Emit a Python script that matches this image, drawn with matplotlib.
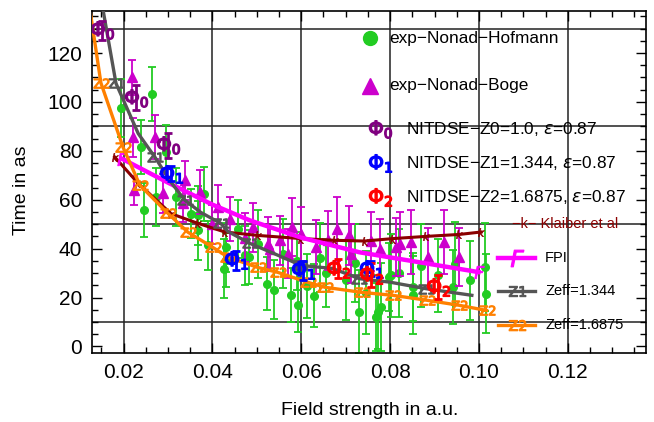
import matplotlib
matplotlib.use("Agg")
import matplotlib.pyplot as plt
from matplotlib.ticker import MultipleLocator

plt.rcParams["font.family"] = ["Liberation Sans", "DejaVu Sans"]

# exp-Nonad-Hofmann (green circles)
hof_x = [0.0195, 0.0240, 0.0265, 0.0296, 0.0318, 0.0382, 0.0246, 0.0274, 0.0352, 0.0367,
         0.0367, 0.0390, 0.0431, 0.0427, 0.0430, 0.0458, 0.0473, 0.0482, 0.0502, 0.0524,
         0.0539, 0.0560, 0.0578, 0.0590, 0.0593, 0.0614, 0.0629, 0.0642, 0.0655, 0.0700,
         0.0720, 0.0731, 0.0745, 0.0769, 0.0773, 0.0780, 0.0797, 0.0803, 0.0820, 0.0851,
         0.0851, 0.0870, 0.0908, 0.0941, 0.0945, 0.0980, 0.1013, 0.1015]
hof_y = [97.5, 81.5, 103.4, 79.5, 61.1, 62.5, 55.7, 61.1, 54.3, 53.6,
         47.5, 41.3, 35.2, 31.8, 40.6, 48.0, 37.2, 36.6, 42.0, 25.7,
         23.2, 38.0, 20.9, 35.0, 16.8, 24.6, 20.8, 36.3, 30.0, 27.0,
         34.0, 14.1, 22.0, 12.0, 14.1, 16.1, 28.4, 29.1, 30.0, 20.9,
         24.3, 33.0, 29.1, 24.3, 33.9, 27.0, 32.5, 21.6]
hof_err = [12, 11, 11, 11, 12, 11, 11, 12, 10, 12,
           12, 10, 11, 12, 10, 12, 12, 11, 14, 11,
           12, 14, 11, 12, 11, 13, 13, 14, 14, 16,
           16, 17, 17, 14, 15, 18, 14, 17, 18, 16,
           14, 17, 15, 15, 17, 16, 18, 16]

# exp-Nonad-Boge (magenta triangles)
boge_x = [0.0218, 0.0222, 0.0223, 0.0271, 0.0289, 0.0333, 0.0338, 0.0372, 0.0400, 0.0413,
          0.0439, 0.0473, 0.0492, 0.0525, 0.0530, 0.0552, 0.0571, 0.0579, 0.0600, 0.0634,
          0.0660, 0.0680, 0.0707, 0.0713, 0.0757, 0.0777, 0.0814, 0.0822, 0.0848, 0.0885,
          0.0922, 0.0956]
boge_y = [110.0, 85.6, 63.8, 85.6, 62.7, 58.7, 68.0, 63.1, 50.0, 57.0,
          52.3, 44.5, 48.8, 42.0, 40.0, 43.4, 38.0, 48.8, 46.0, 40.6,
          43.4, 48.0, 45.4, 38.0, 43.0, 40.0, 40.6, 42.0, 42.7, 36.6,
          42.7, 36.6]
boge_err = [7, 8, 6, 9, 8, 8, 8, 9, 8, 9,
            9, 10, 10, 11, 9, 10, 10, 12, 11, 11,
            12, 13, 12, 12, 12, 12, 12, 13, 13, 12,
            13, 12]

# NITDSE points
phi0_x = [0.0152, 0.0229, 0.0300]
phi0_y = [129.3, 101.8, 82.2]
phi0_err = [4, 5, 5]
phi1_x = [0.0307, 0.0454, 0.0604, 0.0757]
phi1_y = [70.6, 35.2, 31.1, 31.8]
phi1_err = [3, 4, 4, 3]
phi2_x = [0.0683, 0.0758, 0.0908]
phi2_y = [31.8, 29.1, 24.3]
phi2_err = [4, 5, 5]

# model curves
klaiber_x = [0.0180, 0.0233, 0.0307, 0.0368, 0.0428, 0.0502, 0.0600, 0.0675, 0.0743,
             0.0806, 0.0881, 0.0956, 0.1005]
klaiber_y = [77.5, 66.7, 54.3, 50.3, 46.8, 45.4, 44.1, 43.4, 43.1, 44.1, 45.0, 45.8, 46.8]
fpi_x = [0.0196, 0.0300, 0.0400, 0.0485, 0.0600, 0.0731, 0.0999]
fpi_y = [76.8, 67.0, 58.0, 51.5, 44.5, 38.5, 30.4]
z1_x = [0.0154, 0.0183, 0.0233, 0.0271, 0.0307, 0.0338, 0.0374, 0.0419, 0.0435, 0.0485,
        0.0559, 0.0600, 0.0670, 0.0731, 0.0799, 0.0881, 0.0984]
z1_y = [137.5, 107.6, 87.1, 77.3, 67.1, 59.8, 54.8, 50.3, 47.0, 42.1,
        36.4, 33.1, 31.9, 27.7, 26.3, 23.6, 20.9]
z2_x = [0.0125, 0.0149, 0.0199, 0.0237, 0.0300, 0.0345, 0.0401, 0.0435, 0.0502, 0.0547,
        0.0615, 0.0653, 0.0736, 0.0806, 0.0882, 0.0956, 0.1017]
z2_y = [137.0, 107.8, 81.4, 65.9, 54.4, 46.7, 40.5, 36.5, 32.3, 30.3,
        26.2, 24.2, 22.1, 20.9, 18.9, 16.8, 14.7]

grid_x = [0.02, 0.04, 0.06, 0.08, 0.10, 0.12]
grid_y = [10, 50, 90, 130]

GREEN = "#22cc22"
MAGENTA = "#cc00cc"
FPI_COL = "#ff00ff"
PURPLE = "#800080"
DARKRED = "#8b0000"
GRAY = "#555555"
ORANGE = "#ff8000"

fig = plt.figure(figsize=(6.54, 4.22), dpi=100)
ax = fig.add_axes([92 / 654, 69 / 422, 554 / 654, 342 / 422])

for gx in grid_x:
    ax.axvline(gx, color="#222222", lw=1.1, zorder=1)
for gy in grid_y:
    ax.axhline(gy, color="#222222", lw=1.1, zorder=1)

ax.errorbar(hof_x, hof_y, yerr=hof_err, fmt="o", color=GREEN, ms=5.5,
            capsize=3, elinewidth=1.3, capthick=1.3, zorder=2)
ax.errorbar(boge_x, boge_y, yerr=boge_err, fmt="^", color=MAGENTA, ms=7,
            capsize=3, elinewidth=1.3, capthick=1.3, zorder=3)

ax.plot(klaiber_x, klaiber_y, color=DARKRED, lw=2.2, marker="$k$", ms=6, mew=0.4, zorder=4)
ax.plot(fpi_x, fpi_y, color=FPI_COL, lw=3.2, marker="$F$", ms=9, mew=0.6,
        markevery=[0, -1], zorder=4)
ax.plot(z1_x, z1_y, color=GRAY, lw=2.4, marker=r"$\mathsf{Z1}$", ms=11, mew=0.8,
        markevery=list(range(1, len(z1_x), 2)), zorder=5)
ax.plot(z2_x, z2_y, color=ORANGE, lw=2.4, marker=r"$\mathsf{Z2}$", ms=11, mew=0.8,
        markevery=list(range(1, len(z2_x))), zorder=5)

for xs, ys, es, col, mk in [(phi0_x, phi0_y, phi0_err, PURPLE, r"$\Phi_0$"),
                            (phi1_x, phi1_y, phi1_err, "blue", r"$\Phi_1$"),
                            (phi2_x, phi2_y, phi2_err, "red", r"$\Phi_2$")]:
    ax.errorbar(xs, ys, yerr=es, fmt="none", ecolor=col, elinewidth=2,
                capsize=3, capthick=2, zorder=6)
    ax.plot(xs, ys, linestyle="none", marker=mk, color=col, ms=16, zorder=7)

# legend drawn inside the frame, Mathematica style
tr = ax.transAxes
ax.plot([0.502], [0.921], "o", color=GREEN, ms=10, transform=tr, zorder=8)
ax.text(0.536, 0.921, "exp\u2212Nonad\u2212Hofmann", transform=tr, va="center", fontsize=12.4, zorder=8)
ax.plot([0.502], [0.781], "^", color=MAGENTA, ms=12, transform=tr, zorder=8)
ax.text(0.536, 0.781, "exp\u2212Nonad\u2212Boge", transform=tr, va="center", fontsize=12.4, zorder=8)
for yy, col, mk, lab in [(0.655, PURPLE, r"$\Phi_0$", "NITDSE\u2212Z0=1.0, $\\epsilon$=0.87"),
                         (0.556, "blue", r"$\Phi_1$", "NITDSE\u2212Z1=1.344, $\\epsilon$=0.87"),
                         (0.456, "red", r"$\Phi_2$", "NITDSE\u2212Z2=1.6875, $\\epsilon$=0.87")]:
    ax.plot([0.52], [yy], linestyle="none", marker=mk, color=col, ms=16, transform=tr, zorder=8)
    ax.text(0.567, yy, lab, transform=tr, va="center", fontsize=12.4, zorder=8)
ax.text(0.758, 0.377, "\u2212k\u2212 Klaiber et al", transform=tr, va="center",
        fontsize=10.5, color=DARKRED, zorder=8)
for yy, col, mk, lw, lab in [(0.278, FPI_COL, "$F$", 3.2, "FPI"),
                             (0.181, GRAY, r"$\mathsf{Z1}$", 2.4, "Zeff=1.344"),
                             (0.082, ORANGE, r"$\mathsf{Z2}$", 2.4, "Zeff=1.6875")]:
    ax.plot([0.733, 0.800], [yy, yy], color=col, lw=lw, transform=tr, zorder=8)
    ax.plot([0.7665], [yy], marker=mk, color=col, ms=12, mew=0.8, transform=tr, zorder=8)
    ax.text(0.818, yy, lab, transform=tr, va="center", fontsize=10.5, zorder=8)

ax.set_xlim(0.0129, 0.1376)
ax.set_ylim(-2.7, 137.2)
ax.xaxis.set_major_locator(MultipleLocator(0.02))
ax.xaxis.set_minor_locator(MultipleLocator(0.005))
ax.yaxis.set_major_locator(MultipleLocator(20))
ax.yaxis.set_minor_locator(MultipleLocator(5))
ax.xaxis.set_major_formatter(plt.FuncFormatter(lambda v, p: f"{v:.2f}"))
ax.tick_params(which="both", direction="in", top=True, right=True, labelsize=15, width=1)
ax.tick_params(which="major", length=7, pad=7)
ax.tick_params(which="minor", length=4)
for sp in ax.spines.values():
    sp.set_linewidth(1.2)

ax.set_xlabel("Field strength in a.u.", fontsize=14)
ax.set_ylabel("Time in as", fontsize=14)
ax.xaxis.set_label_coords(0.502, -0.143)
ax.yaxis.set_label_coords(-0.112, 0.477)

fig.savefig("out.png", dpi=100)
